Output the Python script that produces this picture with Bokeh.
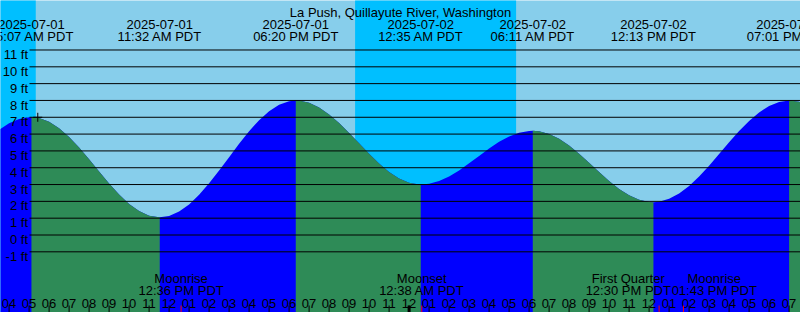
from datetime import datetime
from bokeh.plotting import figure
from bokeh.models import Range1d
from bokeh.core.properties import value
from bokeh.embed import file_html
from bokeh.resources import INLINE

TITLE = "La Push, Quillayute River, Washington"

# Tide curve: hours after 2025-07-01 00:00 PDT, height in feet
curve_hours = [3.5, 4.0, 4.5, 5.0, 5.117, 5.5, 6.0, 6.5, 7.0, 7.5, 8.0, 8.5, 9.0, 9.5,
               10.0, 10.5, 11.0, 11.5, 11.533, 12.0, 12.5, 13.0, 13.5, 14.0, 14.5,
               15.0, 15.5, 16.0, 16.5, 17.0, 17.5, 18.0, 18.333, 18.5, 19.0, 19.5,
               20.0, 20.5, 21.0, 21.5, 22.0, 22.5, 23.0, 23.5, 24.0, 24.5, 24.583,
               25.0, 25.5, 26.0, 26.5, 27.0, 27.5, 28.0, 28.5, 29.0, 29.5, 30.0,
               30.183, 30.5, 31.0, 31.5, 32.0, 32.5, 33.0, 33.5, 34.0, 34.5, 35.0,
               35.5, 36.0, 36.217, 36.5, 37.0, 37.5, 38.0, 38.5, 39.0, 39.5, 40.0,
               40.5, 41.0, 41.5, 42.0, 42.5, 43.0, 43.017, 43.5, 44.0]
curve_feet = [6.26, 6.64, 6.89, 7.00, 7.00, 6.95, 6.73, 6.34, 5.82, 5.20, 4.50, 3.77, 3.06, 2.41,
              1.85, 1.43, 1.15, 1.05, 1.05, 1.13, 1.39, 1.82, 2.39, 3.07, 3.83,
              4.63, 5.43, 6.17, 6.83, 7.36, 7.74, 7.96, 8.00, 7.99, 7.86, 7.58,
              7.17, 6.66, 6.07, 5.45, 4.83, 4.25, 3.75, 3.36, 3.11, 3.00, 3.00,
              3.04, 3.21, 3.48, 3.84, 4.26, 4.70, 5.14, 5.54, 5.86, 6.08, 6.19,
              6.20, 6.17, 6.01, 5.72, 5.32, 4.83, 4.30, 3.74, 3.21, 2.74, 2.36,
              2.10, 1.96, 1.95, 1.98, 2.15, 2.47, 2.92, 3.48, 4.12, 4.81, 5.51,
              6.18, 6.78, 7.29, 7.67, 7.91, 8.00, 8.00, 7.92, 7.68]

tide_dates = ["2025-07-01", "2025-07-01", "2025-07-01", "2025-07-02",
              "2025-07-02", "2025-07-02", "2025-07-02"]
tide_times = ["05:07 AM PDT", "11:32 AM PDT", "06:20 PM PDT", "12:35 AM PDT",
              "06:11 AM PDT", "12:13 PM PDT", "07:01 PM PDT"]
tide_kinds = ["High", "Low", "High", "Low", "High", "Low", "High"]

sunset_dates = ["2025-06-30", "2025-07-01"]
sunset_times = ["09:18 PM", "09:18 PM"]
sunrise_dates = ["2025-07-01", "2025-07-02"]
sunrise_times = ["05:20 AM", "05:21 AM"]

moon_dates = ["2025-07-01", "2025-07-02", "2025-07-02", "2025-07-02"]
moon_events = ["Moonrise", "Moonset", "First Quarter", "Moonrise"]
moon_times = ["12:36 PM PDT", "12:38 AM PDT", "12:30 PM PDT", "01:43 PM PDT"]

hour_ticks = [4, 5, 6, 7, 8, 9, 10, 11, 12, 13, 14, 15, 16, 17, 18, 19, 20, 21, 22, 23,
              24, 25, 26, 27, 28, 29, 30, 31, 32, 33, 34, 35, 36, 37, 38, 39, 40, 41, 42, 43]
hour_labels = ["04", "05", "06", "07", "08", "09", "10", "11", "12", "01", "02", "03",
               "04", "05", "06", "07", "08", "09", "10", "11", "12", "01", "02", "03",
               "04", "05", "06", "07", "08", "09", "10", "11", "12", "01", "02", "03",
               "04", "05", "06", "07"]
midnight_ticks = [24]

height_ticks = [-1, 0, 1, 2, 3, 4, 5, 6, 7, 8, 9, 10, 11]
height_labels = ["-1 ft", "0 ft", "1 ft", "2 ft", "3 ft", "4 ft", "5 ft", "6 ft",
                 "7 ft", "8 ft", "9 ft", "10 ft", "11 ft"]

marker_date, marker_time, marker_feet = "2025-07-01", "05:26 AM", 7.0

# ---------------------------------------------------------------------------
ORIGIN = datetime(2025, 7, 1)


def hours_since(date, hm):
    d = datetime.strptime(date + " " + hm[:8], "%Y-%m-%d %I:%M %p")
    return (d - ORIGIN).total_seconds() / 3600.0


tide_hours = [hours_since(d, t) for d, t in zip(tide_dates, tide_times)]
night_start = [hours_since(d, t) for d, t in zip(sunset_dates, sunset_times)]
night_end = [hours_since(d, t) for d, t in zip(sunrise_dates, sunrise_times)]
moon_hours = [hours_since(d, t) for d, t in zip(moon_dates, moon_times)]
marker_hour = hours_since(marker_date, marker_time)

W, H = 800, 312
X0, X1 = 3.57, 43.57
Y1 = 13.943
Y0 = -4.608
FONT = value("Liberation Sans")
FS = "13px"

DAY = "#87CEEB"
NIGHT = "#00BFFF"
FALL = "#2E8B57"
RISE = "#0000FF"

HPP = (X1 - X0) / W   # hours per pixel
FPP = (Y1 - Y0) / H   # feet per pixel


def px(p):
    return X0 + p * HPP


def py(p):
    return Y1 - p * FPP


# spread moon labels apart when they would collide (min. 86 px between centres)
MIN_SEP = 86 * HPP
moon_label_x = list(moon_hours)
for i in range(1, len(moon_label_x)):
    gap = moon_label_x[i] - moon_label_x[i - 1]
    if gap < MIN_SEP:
        mid = (moon_label_x[i] + moon_label_x[i - 1]) / 2
        moon_label_x[i - 1] = mid - MIN_SEP / 2
        moon_label_x[i] = mid + MIN_SEP / 2

p = figure(width=W, height=H, output_backend="svg", toolbar_location=None,
           x_range=Range1d(X0, X1), y_range=Range1d(Y0, Y1),
           min_border=0, x_axis_location=None, y_axis_location=None)
p.grid.visible = False
p.outline_line_color = None
p.background_fill_color = DAY
p.border_fill_color = DAY

# night sky
p.quad(left=night_start, right=night_end, bottom=Y0 - 2, top=Y1 + 2,
       fill_color=NIGHT, line_color=None)

# water: rising (blue) everywhere, falling segments (green) on top
p.varea(x=curve_hours, y1=[Y0 - 2] * len(curve_hours), y2=curve_feet, fill_color=RISE)
for i, kind in enumerate(tide_kinds):
    if kind != "High":
        continue
    start = tide_hours[i]
    end = tide_hours[i + 1] if i + 1 < len(tide_hours) else X1 + 2
    xs = [t for t in curve_hours if start - 0.02 <= t <= end + 0.02]
    ys = [f for t, f in zip(curve_hours, curve_feet) if start - 0.02 <= t <= end + 0.02]
    p.varea(x=xs, y1=[Y0 - 2] * len(xs), y2=ys, fill_color=FALL)

# height grid lines and labels
p.segment(x0=[px(29)] * len(height_ticks), x1=[X1 + 1] * len(height_ticks),
          y0=height_ticks, y1=height_ticks, line_color="black", line_width=1)
p.text(x=[px(27.5)] * len(height_ticks), y=[h - 4.6 * FPP for h in height_ticks],
       text=height_labels, text_font=FONT, text_font_size=FS, text_align="right",
       text_baseline="alphabetic", text_color="black")

# title
p.text(x=[(X0 + X1) / 2], y=[py(12)], text=[TITLE], text_font=FONT, text_font_size=FS,
       text_align="center", text_baseline="alphabetic", text_color="black")

# tide event labels
p.text(x=tide_hours, y=[py(24.3)] * len(tide_hours), text=tide_dates, text_font=FONT,
       text_font_size=FS, text_align="center", text_baseline="alphabetic", text_color="black")
p.text(x=tide_hours, y=[py(36.3)] * len(tide_hours), text=tide_times, text_font=FONT,
       text_font_size=FS, text_align="center", text_baseline="alphabetic", text_color="black")

# moon labels
p.text(x=moon_label_x, y=[py(278.3)] * len(moon_hours), text=moon_events, text_font=FONT,
       text_font_size=FS, text_align="center", text_baseline="alphabetic", text_color="black")
p.text(x=moon_label_x, y=[py(290.3)] * len(moon_hours), text=moon_times, text_font=FONT,
       text_font_size=FS, text_align="center", text_baseline="alphabetic", text_color="black")

# hour labels and ticks
p.text(x=hour_ticks, y=[py(302.5)] * len(hour_ticks), text=hour_labels, text_font=FONT,
       text_font_size=FS, text_align="center", text_baseline="alphabetic", text_color="black")
p.segment(x0=hour_ticks, x1=hour_ticks, y0=[py(305)] * len(hour_ticks),
          y1=[Y0 - 1] * len(hour_ticks), line_color="black", line_width=1)
p.segment(x0=midnight_ticks, x1=midnight_ticks, y0=[py(305)] * len(midnight_ticks),
          y1=[Y0 - 1] * len(midnight_ticks), line_color="black", line_width=3)
p.segment(x0=moon_hours, x1=moon_hours, y0=[py(305)] * len(moon_hours),
          y1=[Y0 - 1] * len(moon_hours), line_color="red", line_width=1)

# marker
p.scatter(x=[marker_hour], y=[marker_feet], marker="cross", size=9,
          line_color="black", line_width=1)

open("out.html", "w").write(file_html(p, INLINE))
